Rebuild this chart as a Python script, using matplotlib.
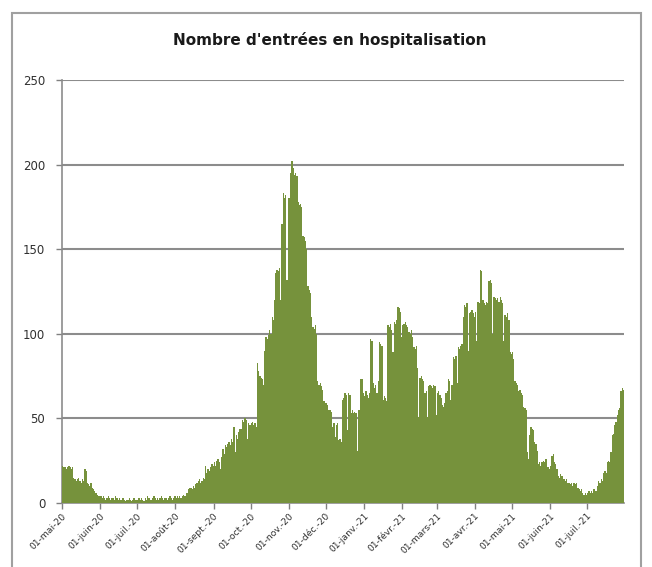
import matplotlib
matplotlib.use("Agg")
import matplotlib.pyplot as plt
import pandas as pd
from matplotlib.patches import Rectangle

start_date = "2020-05-01"

may20 = [22, 21, 21, 20, 21, 22, 21, 20, 21, 15, 14, 13, 14, 15, 13, 12, 14, 13, 20, 19,
         12, 11, 10, 12, 9, 8, 7, 6, 5, 4, 4]
jun20 = [4, 3, 4, 3, 2, 3, 4, 3, 2, 3, 3, 2, 4, 3, 2, 3, 2, 2, 3, 2, 1, 2, 2, 3, 2, 1, 2, 3, 2, 2]
jul20 = [2, 3, 2, 3, 2, 1, 3, 2, 4, 3, 2, 2, 3, 4, 3, 2, 3, 2, 3, 4, 3, 2, 3, 3, 2, 3, 4, 3, 2, 3, 4]
aug20 = [3, 4, 3, 4, 3, 4, 5, 4, 4, 6, 8, 9, 9, 8, 10, 9, 11, 12, 13, 14, 12, 13, 15, 14, 22,
         18, 20, 19, 21, 23, 22]
sep20 = [24, 22, 25, 26, 24, 20, 27, 32, 29, 34, 33, 35, 36, 34, 38, 36, 45, 30, 40, 38,
         42, 44, 44, 49, 48, 50, 49, 38, 47, 46]
oct20 = [47, 48, 46, 47, 45, 83, 78, 75, 74, 73, 70, 90, 98, 97, 99, 102, 100, 110, 108, 120,
         136, 138, 137, 139, 120, 165, 183, 180, 182, 132, 180]
nov20 = [180, 195, 202, 198, 194, 195, 193, 178, 176, 177, 175, 158, 157, 155, 150, 128, 126,
         124, 110, 104, 103, 105, 100, 72, 70, 71, 69, 67, 60, 59]
dec20 = [59, 58, 55, 55, 54, 45, 47, 39, 46, 47, 37, 38, 36, 61, 62, 65, 64, 43, 65, 64,
         53, 55, 53, 54, 53, 31, 55, 55, 73, 73, 65]
jan21 = [63, 66, 64, 62, 65, 97, 96, 71, 68, 70, 65, 72, 95, 94, 93, 61, 63, 62, 60, 105,
         104, 106, 102, 89, 107, 106, 108, 116, 115, 113, 98]
feb21 = [105, 106, 107, 105, 104, 101, 100, 102, 98, 92, 91, 93, 80, 51, 74, 75, 73, 72, 65,
         66, 51, 69, 70, 69, 68, 70, 69, 52]
mar21 = [65, 66, 64, 62, 58, 57, 59, 65, 66, 73, 72, 61, 70, 86, 85, 87, 71, 92, 91, 93,
         94, 110, 117, 116, 118, 90, 112, 113, 114, 112, 110]
apr21 = [113, 96, 119, 118, 138, 137, 120, 118, 117, 119, 118, 131, 132, 130, 100, 122, 121,
         120, 121, 119, 122, 120, 118, 96, 111, 110, 112, 108, 89, 88]
may21 = [89, 85, 72, 71, 70, 66, 67, 65, 64, 57, 56, 55, 30, 26, 40, 45, 44, 43, 36, 35,
         31, 23, 24, 22, 24, 25, 24, 26, 21, 21, 20]
jun21 = [22, 28, 29, 24, 23, 20, 16, 15, 17, 16, 14, 14, 13, 14, 12, 12, 11, 12, 10, 12,
         11, 12, 9, 8, 7, 8, 6, 5, 6, 5]
jul21 = [6, 7, 6, 7, 6, 8, 7, 7, 10, 13, 12, 14, 13, 18, 19, 18, 24, 25, 24, 30, 40, 41,
         46, 48, 52, 55, 56, 66, 68, 67]

values = (may20 + jun20 + jul20 + aug20 + sep20 + oct20 + nov20 + dec20 + jan21 + feb21
          + mar21 + apr21 + may21 + jun21 + jul21)

tick_labels = ["01-mai-20", "01-juin-20", "01-juil.-20", "01-août-20", "01-sept.-20",
               "01-oct.-20", "01-nov.-20", "01-déc.-20", "01-janv.-21", "01-févr.-21",
               "01-mars-21", "01-avr.-21", "01-mai-21", "01-juin-21", "01-juil.-21"]

title = "Nombre d'entrées en hospitalisation"

dates = pd.date_range(start_date, periods=len(values), freq="D")
tick_dates = pd.date_range(start_date, periods=len(tick_labels), freq="MS")

fig = plt.figure(figsize=(6.52, 5.67), dpi=100)
fig.patch.set_facecolor("white")

# outer chart frame
fig.patches.append(Rectangle((12 / 652, -0.05), (641 - 12) / 652, 1.05 - 13 / 567,
                             transform=fig.transFigure, fill=False,
                             edgecolor="#a0a0a0", linewidth=1.5))

ax = fig.add_axes([62 / 652, 1 - 503 / 567, (624 - 62) / 652, (503 - 80) / 567])
ax.bar(dates, values, width=1.12, color="#76923c", linewidth=0,
       align="edge", zorder=3)

ax.set_ylim(0, 250)
ax.set_yticks(range(0, 251, 50))
ax.set_xlim(dates[0], dates[-1] + pd.Timedelta(days=1))
ax.set_xticks(tick_dates)
ax.set_xticklabels(tick_labels, rotation=45, ha="right", rotation_mode="anchor",
                   fontsize=6.6, color="#303030")
ax.tick_params(axis="y", labelsize=8.5, colors="#303030", length=4, width=1,
               color="#808080", pad=8)
ax.tick_params(axis="x", length=4, width=1, color="#808080", pad=2)

ax.grid(axis="y", color="#8c8c8c", linewidth=1.5, zorder=0)
for s in ["top", "right"]:
    ax.spines[s].set_visible(False)
for s in ["left", "bottom"]:
    ax.spines[s].set_color("#8c8c8c")
    ax.spines[s].set_linewidth(1.2)

fig.text(330 / 652, 1 - 40 / 567, title, ha="center", va="center",
         fontsize=11, fontweight="bold", color="#1a1a1a")

fig.savefig("out.png", dpi=100)
